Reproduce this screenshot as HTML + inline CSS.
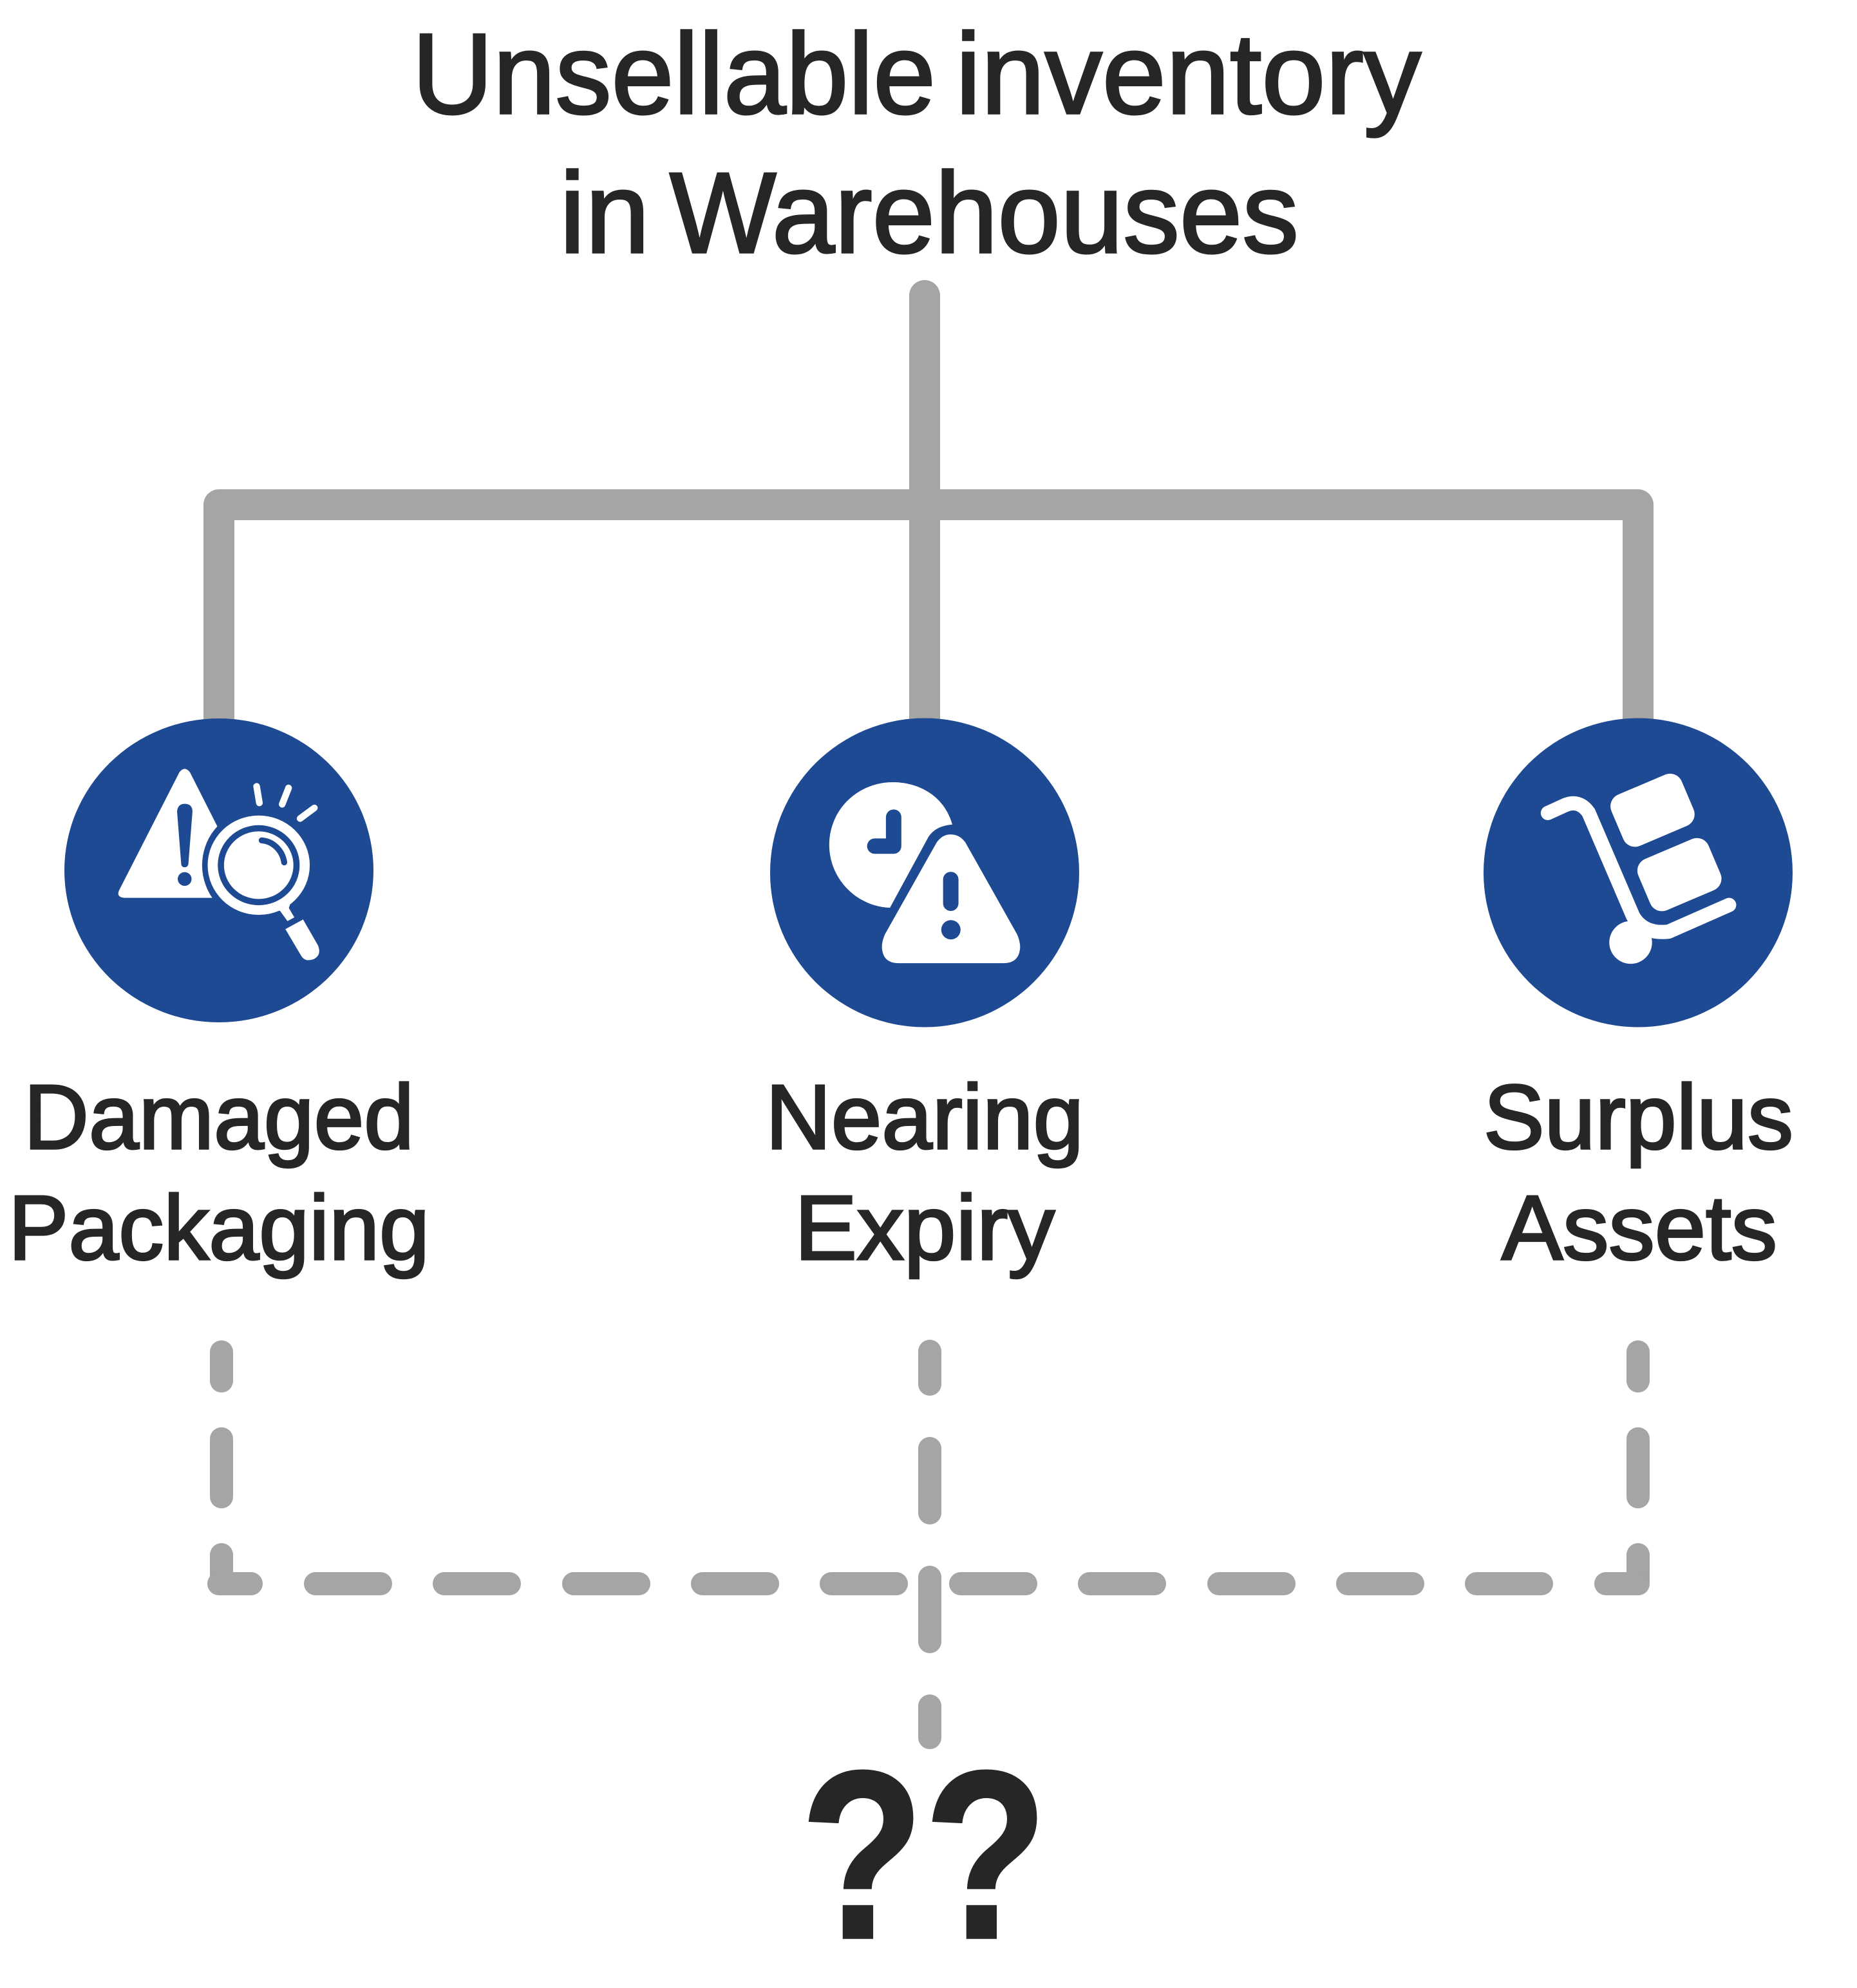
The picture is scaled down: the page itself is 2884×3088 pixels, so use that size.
<!DOCTYPE html>
<html lang="en">
<head>
<meta charset="utf-8">
<title>Unsellable inventory in Warehouses</title>
<style>
html,body{margin:0;padding:0;background:#fff}
svg{display:block}
text{font-family:"Liberation Sans",sans-serif;fill:#262626;stroke:#262626;stroke-width:3.5;paint-order:stroke}
</style>
</head>
<body>
<svg xmlns="http://www.w3.org/2000/svg" width="2884" height="3088" viewBox="0 0 2884 3088">
<rect width="2884" height="3088" fill="#fff"/>

<text x="640" y="176" font-size="178" textLength="813" lengthAdjust="spacingAndGlyphs">Unsellable</text>
<text x="1484" y="176" font-size="178" textLength="723" lengthAdjust="spacingAndGlyphs">inventory</text>
<text x="869" y="392" font-size="178" textLength="140" lengthAdjust="spacingAndGlyphs">in</text>
<text x="1040" y="392" font-size="178" textLength="977" lengthAdjust="spacingAndGlyphs">Warehouses</text>

<g fill="none" stroke="#a5a5a5" stroke-width="48" stroke-linecap="round" stroke-linejoin="round">
<path d="M1436 459V1130"/>
<path d="M340 1130V784H2544V1130"/>
</g>

<g stroke="#a5a5a5" stroke-width="36" stroke-linecap="round" fill="none">
<path d="M344 2100V2145M344 2235V2325M344 2415V2460"/>
<path d="M2544 2100V2145M2544 2235V2325M2544 2415V2460"/>
<path d="M1444 2099V2150M1444 2250V2350M1444 2450V2550M1444 2650V2699"/>
<path d="M340 2460H390M490 2460H591M690 2460H791M891 2460H992M1091 2460H1192M1291 2460H1392M1492 2460H1593M1692 2460H1793M1893 2460H1994M2093 2460H2194M2293 2460H2394M2494 2460H2544"/>
</g>

<ellipse cx="340" cy="1352" rx="240" ry="236" fill="#1e4a93"/>
<ellipse cx="1436" cy="1355.5" rx="240" ry="240" fill="#1e4a93"/>
<ellipse cx="2544" cy="1355.5" rx="240" ry="240" fill="#1e4a93"/>

<!-- Icon 1 -->
<g transform="translate(60,1080) scale(.35714)">
<path fill="#fff" d="M612 335Q635 305 658 335L777 570A250 250 0 0 0 755 881L372 881Q338 878 349 850Z"/>
<path fill="#1e4a93" d="M602 505Q605 472 635 472Q668 472 669 505L651 735Q648 748 635 748Q622 748 620 735Z"/>
<circle cx="635" cy="799" r="30" fill="#1e4a93"/>
<ellipse cx="957" cy="739" rx="222" ry="216" fill="#fff"/>
<ellipse cx="957" cy="739" rx="178" ry="174" fill="#1e4a93"/>
<ellipse cx="957" cy="739" rx="151" ry="147" fill="#fff"/>
<path d="M970 631C1020 635 1060 675 1068 727" fill="none" stroke="#1e4a93" stroke-width="26" stroke-linecap="round"/>
<path fill="#fff" d="M1040 935L1050 938L1082 982L1112 966L1088 925L1095 905Z"/>
<path fill="#fff" d="M1073 1017L1150 975L1215 1088Q1232 1130 1195 1148Q1158 1162 1140 1130Z"/>
<path d="M948 396L960 468M1087 403L1059 474M1199 490L1137 536" stroke="#fff" stroke-width="29" stroke-linecap="round" fill="none"/>
</g>

<!-- Icon 2 -->
<g transform="translate(1160,1080) scale(.35714)">
<path fill="#fff" d="M893 562C860 440 750 378 635 378C480 378 358 500 358 650C358 800 480 920 622 924L790 615Q820 568 893 562Z"/>
<path d="M638 530V656H556" fill="none" stroke="#1e4a93" stroke-width="67" stroke-linecap="round" stroke-linejoin="round"/>
<path fill="#fff" d="M825 640Q850 605 885 605Q925 605 950 640L1175 1040Q1188 1070 1188 1095Q1185 1165 1115 1165L660 1165Q590 1165 587 1095Q587 1070 600 1040Z"/>
<rect x="853" y="768" width="67" height="170" rx="33" fill="#1e4a93"/>
<circle cx="887" cy="1020" r="42" fill="#1e4a93"/>
</g>

<!-- Icon 3 -->
<g transform="translate(2270,1080) scale(.35714)">
<path d="M375 512L445 480Q510 450 552 510L745 960Q790 1040 900 1028L1163 912" fill="none" stroke="#fff" stroke-width="62" stroke-linecap="round" stroke-linejoin="round"/>
<circle cx="735" cy="1075" r="93" fill="#fff"/>
<rect x="664" y="379" width="332" height="242" rx="55" fill="#fff" transform="rotate(-23 830 500)"/>
<rect x="781" y="659" width="332" height="242" rx="55" fill="#fff" transform="rotate(-23 947 780)"/>
</g>

<text x="37" y="1784" font-size="142" textLength="606" lengthAdjust="spacingAndGlyphs">Damaged</text>
<text x="13" y="1956" font-size="142" textLength="654" lengthAdjust="spacingAndGlyphs">Packaging</text>
<text x="1189" y="1784" font-size="142" textLength="494" lengthAdjust="spacingAndGlyphs">Nearing</text>
<text x="1234" y="1956" font-size="142" textLength="404" lengthAdjust="spacingAndGlyphs">Expiry</text>
<text x="2304" y="1784" font-size="142" textLength="481" lengthAdjust="spacingAndGlyphs">Surplus</text>
<text x="2332" y="1956" font-size="142" textLength="428" lengthAdjust="spacingAndGlyphs">Assets</text>

<text x="1243" y="3010" font-size="372" font-weight="700" textLength="384" lengthAdjust="spacingAndGlyphs">??</text>
</svg>
</body>
</html>
